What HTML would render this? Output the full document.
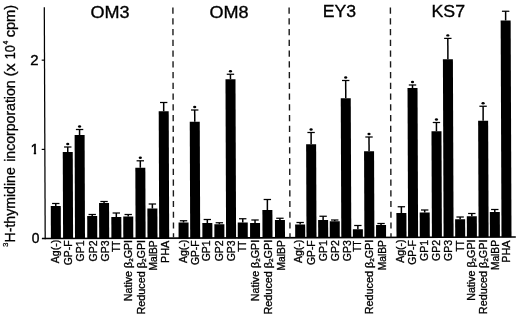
<!DOCTYPE html>
<html><head><meta charset="utf-8"><title>Figure</title>
<style>
html,body{margin:0;padding:0;background:#fff;}
svg{display:block;}
text{font-family:"Liberation Sans",Arial,Helvetica,sans-serif;fill:#000;stroke:#000;stroke-width:0.25px;}
.xl{font-size:10.2px;stroke-width:0.32px;}
.ttl{font-size:15.9px;stroke-width:0.32px;}
.yt{font-size:14.2px;stroke-width:0.4px;}
.yl{font-size:14.4px;stroke-width:0.3px;}
.sp{font-size:7.5px;}
</style></head><body>
<svg width="520" height="316" viewBox="0 0 520 316">
<rect width="520" height="316" fill="#fff"/>

<line x1="44.3" y1="7.2" x2="45.2" y2="239.2" stroke="#000" stroke-width="1.25"/>
<line x1="41.9" y1="238.56" x2="515.8" y2="236.95" stroke="#000" stroke-width="1.6"/>
<line x1="41.7" y1="60.15" x2="44.5" y2="60.15" stroke="#000" stroke-width="1.2"/>
<line x1="41.7" y1="149.4" x2="44.9" y2="149.4" stroke="#000" stroke-width="1.2"/>
<text class="yt" transform="translate(30.20,65.0) scale(1.052,1)">2</text>
<clipPath id="c1"><rect x="28" y="140" width="12" height="11.6"/><rect x="33.8" y="151.5" width="2.3" height="4"/></clipPath>
<g clip-path="url(#c1)"><text class="yt" style="stroke-width:0.6px" transform="translate(30.81,154.1)">1</text></g>
<text class="yt" transform="translate(31.87,243.4) scale(0.972,1)">0</text>
<text class="yl" transform="translate(15.3,242.50) rotate(-90) scale(0.981,1)">H-thymidine</text>
<text class="yl" transform="translate(15.3,161.78) rotate(-90) scale(0.979,1)">incorporation</text>
<text class="yl" transform="translate(15.3,76.43) rotate(-90) scale(1.087,1)">(x</text>
<text class="yl" transform="translate(15.3,59.19) rotate(-90) scale(0.874,1)">10</text>
<text class="yl" transform="translate(15.3,37.36) rotate(-90) scale(1.019,1)">cpm)</text>
<text class="sp" transform="translate(8.4,246.7) rotate(-90)">3</text>
<text class="sp" style="font-size:6.8px" transform="translate(8.2,44.6) rotate(-90)">4</text>
<line x1="172.9" y1="7.6" x2="173.5" y2="237.4" stroke="#1a1a1a" stroke-width="1.4" stroke-dasharray="6.2 4.54"/>
<line x1="289.1" y1="7.6" x2="290.0" y2="237.4" stroke="#1a1a1a" stroke-width="1.4" stroke-dasharray="6.2 4.54"/>
<line x1="390.4" y1="7.6" x2="391.0" y2="237.4" stroke="#1a1a1a" stroke-width="1.4" stroke-dasharray="6.2 4.54"/>
<text class="ttl" transform="translate(90.45,17.75) scale(1.137,1)">OM3</text>
<path d="M50.90 238.81L50.78 206.0H60.78L60.90 238.81Z" fill="#000"/>
<path d="M55.78 206.0L55.77 203.5" stroke="#000" stroke-width="1.5" fill="none"/><path d="M52.07 203.5H59.47" stroke="#000" stroke-width="1.25" fill="none"/>
<text class="xl" transform="translate(59.10,263.20) rotate(-90) scale(1.030,1)">Ag(-)</text>
<path d="M63.10 238.77L62.76 152.0H72.76L73.10 238.77Z" fill="#000"/>
<path d="M67.76 152.0L67.75 147.0" stroke="#000" stroke-width="1.5" fill="none"/><path d="M64.05 147.0H71.45" stroke="#000" stroke-width="1.25" fill="none"/>
<ellipse cx="67.75" cy="144.00" rx="1.6" ry="1.2" fill="#000"/>
<text class="xl" transform="translate(72.30,265.18) rotate(-90) scale(1.011,1)">GP-F</text>
<path d="M75.00 238.73L74.60 135.0H84.60L85.00 238.73Z" fill="#000"/>
<path d="M79.60 135.0L79.58 129.5" stroke="#000" stroke-width="1.5" fill="none"/><path d="M75.88 129.5H83.28" stroke="#000" stroke-width="1.25" fill="none"/>
<ellipse cx="79.58" cy="126.50" rx="1.6" ry="1.2" fill="#000"/>
<text class="xl" transform="translate(84.40,261.39) rotate(-90) scale(1.030,1)">GP1</text>
<path d="M87.30 238.69L87.21 216.0H97.21L97.30 238.69Z" fill="#000"/>
<path d="M92.21 216.0L92.21 214.5" stroke="#000" stroke-width="1.5" fill="none"/><path d="M88.51 214.5H95.91" stroke="#000" stroke-width="1.25" fill="none"/>
<text class="xl" transform="translate(97.00,261.39) rotate(-90) scale(1.030,1)">GP2</text>
<path d="M99.20 238.65L99.06 203.0H109.06L109.20 238.65Z" fill="#000"/>
<path d="M104.06 203.0L104.06 201.5" stroke="#000" stroke-width="1.5" fill="none"/><path d="M100.36 201.5H107.76" stroke="#000" stroke-width="1.25" fill="none"/>
<text class="xl" transform="translate(108.80,261.39) rotate(-90) scale(1.030,1)">GP3</text>
<path d="M111.40 238.60L111.32 217.0H121.32L121.40 238.60Z" fill="#000"/>
<path d="M116.32 217.0L116.30 213.0" stroke="#000" stroke-width="1.5" fill="none"/><path d="M112.60 213.0H120.00" stroke="#000" stroke-width="1.25" fill="none"/>
<text class="xl" transform="translate(119.90,251.94) rotate(-90) scale(0.874,1)">TT</text>
<path d="M123.30 238.56L123.22 216.5H133.22L133.30 238.56Z" fill="#000"/>
<path d="M128.22 216.5L128.21 214.5" stroke="#000" stroke-width="1.5" fill="none"/><path d="M124.51 214.5H131.91" stroke="#000" stroke-width="1.25" fill="none"/>
<text class="xl" transform="translate(131.70,301.24) rotate(-90) scale(1.049,1)">Native &#946;<tspan font-size="6.0px" dy="1.2">2</tspan><tspan dy="-1.2">GPI</tspan></text>
<path d="M135.60 238.52L135.33 167.7H145.33L145.60 238.52Z" fill="#000"/>
<path d="M140.33 167.7L140.30 160.8" stroke="#000" stroke-width="1.5" fill="none"/><path d="M136.60 160.8H144.00" stroke="#000" stroke-width="1.25" fill="none"/>
<ellipse cx="140.30" cy="157.80" rx="1.6" ry="1.2" fill="#000"/>
<text class="xl" transform="translate(145.00,314.55) rotate(-90) scale(1.061,1)">Reduced &#946;<tspan font-size="6.0px" dy="1.2">2</tspan><tspan dy="-1.2">GPI</tspan></text>
<path d="M147.50 238.48L147.38 208.4H157.38L157.50 238.48Z" fill="#000"/>
<path d="M152.38 208.4L152.37 204.0" stroke="#000" stroke-width="1.5" fill="none"/><path d="M148.67 204.0H156.07" stroke="#000" stroke-width="1.25" fill="none"/>
<text class="xl" transform="translate(157.40,270.50) rotate(-90) scale(1.003,1)">MalBP</text>
<path d="M159.20 238.44L158.71 111.25H168.71L169.20 238.44Z" fill="#000"/>
<path d="M163.71 111.25L163.67 102.5" stroke="#000" stroke-width="1.5" fill="none"/><path d="M159.97 102.5H167.37" stroke="#000" stroke-width="1.25" fill="none"/>
<text class="xl" transform="translate(168.80,263.04) rotate(-90) scale(1.058,1)">PHA</text>
<text class="ttl" transform="translate(209.45,17.55) scale(1.137,1)">OM8</text>
<path d="M178.60 238.38L178.54 222.5H188.54L188.60 238.38Z" fill="#000"/>
<path d="M183.54 222.5L183.53 220.75" stroke="#000" stroke-width="1.5" fill="none"/><path d="M179.83 220.75H187.23" stroke="#000" stroke-width="1.25" fill="none"/>
<text class="xl" transform="translate(186.90,263.10) rotate(-90) scale(1.030,1)">Ag(-)</text>
<path d="M190.20 238.34L189.75 121.75H199.75L200.20 238.34Z" fill="#000"/>
<path d="M194.75 121.75L194.70 110.0" stroke="#000" stroke-width="1.5" fill="none"/><path d="M191.00 110.0H198.40" stroke="#000" stroke-width="1.25" fill="none"/>
<ellipse cx="194.70" cy="107.00" rx="1.6" ry="1.2" fill="#000"/>
<text class="xl" transform="translate(199.30,265.08) rotate(-90) scale(1.011,1)">GP-F</text>
<path d="M202.40 238.29L202.34 223.0H212.34L212.40 238.29Z" fill="#000"/>
<path d="M207.34 223.0L207.33 219.5" stroke="#000" stroke-width="1.5" fill="none"/><path d="M203.63 219.5H211.03" stroke="#000" stroke-width="1.25" fill="none"/>
<text class="xl" transform="translate(210.30,261.29) rotate(-90) scale(1.030,1)">GP1</text>
<path d="M214.40 238.25L214.35 224.25H224.35L224.40 238.25Z" fill="#000"/>
<path d="M219.35 224.25L219.34 222.75" stroke="#000" stroke-width="1.5" fill="none"/><path d="M215.64 222.75H223.04" stroke="#000" stroke-width="1.25" fill="none"/>
<text class="xl" transform="translate(222.70,261.29) rotate(-90) scale(1.030,1)">GP2</text>
<path d="M226.10 238.21L225.48 79.25H235.48L236.10 238.21Z" fill="#000"/>
<path d="M230.48 79.25L230.46 74.25" stroke="#000" stroke-width="1.5" fill="none"/><path d="M226.76 74.25H234.16" stroke="#000" stroke-width="1.25" fill="none"/>
<ellipse cx="230.46" cy="71.25" rx="1.6" ry="1.2" fill="#000"/>
<text class="xl" transform="translate(234.70,261.29) rotate(-90) scale(1.030,1)">GP3</text>
<path d="M237.80 238.17L237.74 222.5H247.74L247.80 238.17Z" fill="#000"/>
<path d="M242.74 222.5L242.72 218.75" stroke="#000" stroke-width="1.5" fill="none"/><path d="M239.02 218.75H246.42" stroke="#000" stroke-width="1.25" fill="none"/>
<text class="xl" transform="translate(245.80,251.84) rotate(-90) scale(0.874,1)">TT</text>
<path d="M250.10 238.13L250.04 223.0H260.04L260.10 238.13Z" fill="#000"/>
<path d="M255.04 223.0L255.03 220.0" stroke="#000" stroke-width="1.5" fill="none"/><path d="M251.33 220.0H258.73" stroke="#000" stroke-width="1.25" fill="none"/>
<text class="xl" transform="translate(259.10,301.14) rotate(-90) scale(1.049,1)">Native &#946;<tspan font-size="6.0px" dy="1.2">2</tspan><tspan dy="-1.2">GPI</tspan></text>
<path d="M262.50 238.09L262.39 210.0H272.39L272.50 238.09Z" fill="#000"/>
<path d="M267.39 210.0L267.35 199.5" stroke="#000" stroke-width="1.5" fill="none"/><path d="M263.65 199.5H271.05" stroke="#000" stroke-width="1.25" fill="none"/>
<text class="xl" transform="translate(272.00,314.45) rotate(-90) scale(1.061,1)">Reduced &#946;<tspan font-size="6.0px" dy="1.2">2</tspan><tspan dy="-1.2">GPI</tspan></text>
<path d="M275.00 238.05L274.93 220.0H284.93L285.00 238.05Z" fill="#000"/>
<path d="M279.93 220.0L279.92 218.25" stroke="#000" stroke-width="1.5" fill="none"/><path d="M276.22 218.25H283.62" stroke="#000" stroke-width="1.25" fill="none"/>
<text class="xl" transform="translate(284.60,270.40) rotate(-90) scale(1.003,1)">MalBP</text>
<text class="ttl" transform="translate(322.72,17.35) scale(1.111,1)">EY3</text>
<path d="M295.20 237.98L295.15 224.5H305.15L305.20 237.98Z" fill="#000"/>
<path d="M300.15 224.5L300.14 222.5" stroke="#000" stroke-width="1.5" fill="none"/><path d="M296.44 222.5H303.84" stroke="#000" stroke-width="1.25" fill="none"/>
<text class="xl" transform="translate(302.00,263.00) rotate(-90) scale(1.030,1)">Ag(-)</text>
<path d="M306.50 237.94L306.13 144.25H316.13L316.50 237.94Z" fill="#000"/>
<path d="M311.13 144.25L311.09 132.5" stroke="#000" stroke-width="1.5" fill="none"/><path d="M307.39 132.5H314.79" stroke="#000" stroke-width="1.25" fill="none"/>
<ellipse cx="311.09" cy="129.50" rx="1.6" ry="1.2" fill="#000"/>
<text class="xl" transform="translate(315.10,264.98) rotate(-90) scale(1.011,1)">GP-F</text>
<path d="M318.20 237.90L318.13 220.0H328.13L328.20 237.90Z" fill="#000"/>
<path d="M323.13 220.0L323.12 216.25" stroke="#000" stroke-width="1.5" fill="none"/><path d="M319.42 216.25H326.82" stroke="#000" stroke-width="1.25" fill="none"/>
<text class="xl" transform="translate(326.70,261.19) rotate(-90) scale(1.030,1)">GP1</text>
<path d="M329.80 237.86L329.73 221.25H339.73L339.80 237.86Z" fill="#000"/>
<path d="M334.73 221.25L334.73 220.0" stroke="#000" stroke-width="1.5" fill="none"/><path d="M331.03 220.0H338.43" stroke="#000" stroke-width="1.25" fill="none"/>
<text class="xl" transform="translate(338.50,261.19) rotate(-90) scale(1.030,1)">GP2</text>
<path d="M341.30 237.82L340.75 98.25H350.75L351.30 237.82Z" fill="#000"/>
<path d="M345.75 98.25L345.69 80.5" stroke="#000" stroke-width="1.5" fill="none"/><path d="M341.99 80.5H349.39" stroke="#000" stroke-width="1.25" fill="none"/>
<ellipse cx="345.69" cy="77.50" rx="1.6" ry="1.2" fill="#000"/>
<text class="xl" transform="translate(350.60,261.19) rotate(-90) scale(1.030,1)">GP3</text>
<path d="M352.90 237.78L352.87 229.25H362.87L362.90 237.78Z" fill="#000"/>
<path d="M357.87 229.25L357.85 225.5" stroke="#000" stroke-width="1.5" fill="none"/><path d="M354.15 225.5H361.55" stroke="#000" stroke-width="1.25" fill="none"/>
<text class="xl" transform="translate(361.20,251.74) rotate(-90) scale(0.874,1)">TT</text>
<path d="M364.40 237.74L364.06 151.25H374.06L374.40 237.74Z" fill="#000"/>
<path d="M369.06 151.25L369.01 137.0" stroke="#000" stroke-width="1.5" fill="none"/><path d="M365.31 137.0H372.71" stroke="#000" stroke-width="1.25" fill="none"/>
<ellipse cx="369.01" cy="134.00" rx="1.6" ry="1.2" fill="#000"/>
<text class="xl" transform="translate(373.10,314.35) rotate(-90) scale(1.061,1)">Reduced &#946;<tspan font-size="6.0px" dy="1.2">2</tspan><tspan dy="-1.2">GPI</tspan></text>
<path d="M376.10 237.70L376.05 225.0H386.05L386.10 237.70Z" fill="#000"/>
<path d="M381.05 225.0L381.04 223.5" stroke="#000" stroke-width="1.5" fill="none"/><path d="M377.34 223.5H384.74" stroke="#000" stroke-width="1.25" fill="none"/>
<text class="xl" transform="translate(385.50,270.30) rotate(-90) scale(1.003,1)">MalBP</text>
<text class="ttl" transform="translate(431.51,17.35) scale(1.118,1)">KS7</text>
<path d="M396.50 237.63L396.40 213.0H406.40L406.50 237.63Z" fill="#000"/>
<path d="M401.40 213.0L401.38 206.75" stroke="#000" stroke-width="1.5" fill="none"/><path d="M397.68 206.75H405.08" stroke="#000" stroke-width="1.25" fill="none"/>
<text class="xl" transform="translate(404.20,262.80) rotate(-90) scale(1.030,1)">Ag(-)</text>
<path d="M408.10 237.60L407.52 88.0H417.52L418.10 237.60Z" fill="#000"/>
<path d="M412.52 88.0L412.50 85.0" stroke="#000" stroke-width="1.5" fill="none"/><path d="M408.80 85.0H416.20" stroke="#000" stroke-width="1.25" fill="none"/>
<ellipse cx="412.50" cy="82.00" rx="1.6" ry="1.2" fill="#000"/>
<text class="xl" transform="translate(416.10,264.78) rotate(-90) scale(1.011,1)">GP-F</text>
<path d="M419.80 237.56L419.70 212.5H429.70L429.80 237.56Z" fill="#000"/>
<path d="M424.70 212.5L424.69 210.0" stroke="#000" stroke-width="1.5" fill="none"/><path d="M420.99 210.0H428.39" stroke="#000" stroke-width="1.25" fill="none"/>
<text class="xl" transform="translate(428.00,260.99) rotate(-90) scale(1.030,1)">GP1</text>
<path d="M431.90 237.51L431.48 131.25H441.48L441.90 237.51Z" fill="#000"/>
<path d="M436.48 131.25L436.45 122.5" stroke="#000" stroke-width="1.5" fill="none"/><path d="M432.75 122.5H440.15" stroke="#000" stroke-width="1.25" fill="none"/>
<ellipse cx="436.45" cy="119.50" rx="1.6" ry="1.2" fill="#000"/>
<text class="xl" transform="translate(440.40,260.99) rotate(-90) scale(1.030,1)">GP2</text>
<path d="M443.60 237.47L442.90 59.25H452.90L453.60 237.47Z" fill="#000"/>
<path d="M447.90 59.25L447.82 38.4" stroke="#000" stroke-width="1.5" fill="none"/><path d="M444.12 38.4H451.52" stroke="#000" stroke-width="1.25" fill="none"/>
<ellipse cx="447.82" cy="35.40" rx="1.6" ry="1.2" fill="#000"/>
<text class="xl" transform="translate(452.40,260.99) rotate(-90) scale(1.030,1)">GP3</text>
<path d="M455.20 237.44L455.13 219.25H465.13L465.20 237.44Z" fill="#000"/>
<path d="M460.13 219.25L460.12 217.0" stroke="#000" stroke-width="1.5" fill="none"/><path d="M456.42 217.0H463.82" stroke="#000" stroke-width="1.25" fill="none"/>
<text class="xl" transform="translate(463.90,251.54) rotate(-90) scale(0.874,1)">TT</text>
<path d="M466.90 237.40L466.82 216.25H476.82L476.90 237.40Z" fill="#000"/>
<path d="M471.82 216.25L471.80 213.5" stroke="#000" stroke-width="1.5" fill="none"/><path d="M468.10 213.5H475.50" stroke="#000" stroke-width="1.25" fill="none"/>
<text class="xl" transform="translate(474.90,300.84) rotate(-90) scale(1.049,1)">Native &#946;<tspan font-size="6.0px" dy="1.2">2</tspan><tspan dy="-1.2">GPI</tspan></text>
<path d="M478.60 237.36L478.14 120.75H488.14L488.60 237.36Z" fill="#000"/>
<path d="M483.14 120.75L483.09 106.25" stroke="#000" stroke-width="1.5" fill="none"/><path d="M479.39 106.25H486.79" stroke="#000" stroke-width="1.25" fill="none"/>
<ellipse cx="483.09" cy="103.25" rx="1.6" ry="1.2" fill="#000"/>
<text class="xl" transform="translate(487.20,314.15) rotate(-90) scale(1.061,1)">Reduced &#946;<tspan font-size="6.0px" dy="1.2">2</tspan><tspan dy="-1.2">GPI</tspan></text>
<path d="M489.90 237.32L489.80 212.0H499.80L499.90 237.32Z" fill="#000"/>
<path d="M494.80 212.0L494.79 209.5" stroke="#000" stroke-width="1.5" fill="none"/><path d="M491.09 209.5H498.49" stroke="#000" stroke-width="1.25" fill="none"/>
<text class="xl" transform="translate(499.00,270.10) rotate(-90) scale(1.003,1)">MalBP</text>
<path d="M501.50 237.28L500.65 20.5H510.65L511.50 237.28Z" fill="#000"/>
<path d="M505.65 20.5L505.62 11.25" stroke="#000" stroke-width="1.5" fill="none"/><path d="M501.92 11.25H509.32" stroke="#000" stroke-width="1.25" fill="none"/>
<text class="xl" transform="translate(510.20,262.64) rotate(-90) scale(1.058,1)">PHA</text>
</svg></body></html>
